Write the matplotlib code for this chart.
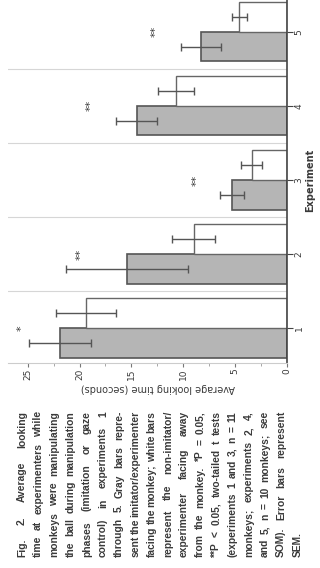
import matplotlib
matplotlib.use('Agg')
import matplotlib.pyplot as plt
from matplotlib import font_manager
import numpy as np

# Looking time per experiment (seconds)
experiments = [1, 2, 3, 4, 5]
imitator = [21.9, 15.4, 5.3, 14.5, 8.3]
imitator_sem = [3.0, 5.9, 1.2, 2.0, 1.9]
non_imitator = [19.4, 9.0, 3.4, 10.7, 4.6]
non_imitator_sem = [2.9, 2.1, 1.0, 1.7, 0.7]
sig_marks = ['*', '**', '**', '**', '**']
sig_pos = [25.6, 19.9, 8.7, 18.9, 12.7]
value_ticks = [0, 5, 10, 15, 20, 25]

caption_lines = [
    "Fig. 2. Average looking",
    "time at experimenters while",
    "monkeys were manipulating",
    "the ball during manipulation",
    "phases (imitation or gaze",
    "control) in experiments 1",
    "through 5. Gray bars repre-",
    "sent the imitator/experimenter",
    "facing the monkey; white bars",
    "represent the non-imitator/",
    "experimenter facing away",
    "from the monkey. *P = 0.05,",
    "**P < 0.05, two-tailed t tests",
    "(experiments 1 and 3, n = 11",
    "monkeys; experiments 2, 4,",
    "and 5, n = 10 monkeys; see",
    "SOM). Error bars represent",
    "SEM.",
]

names = {f.name for f in font_manager.fontManager.ttflist}
cap_font = 'Liberation Sans Narrow' if 'Liberation Sans Narrow' in names else 'Liberation Sans'
ink = '#3a3a3a'

W, H = 320, 568
fig = plt.figure(figsize=(W / 100, H / 100), dpi=100)
fig.patch.set_facecolor('white')

# chart is printed rotated: value axis runs right-to-left, experiments bottom-to-top
ax = fig.add_axes([8 / W, 1 - 363 / H, 279 / W, 363 / H])
pos = np.array(experiments, dtype=float)
w = 0.4
ax.barh(pos - w / 2, imitator, height=w, color='#b5b5b5', edgecolor='#555555', linewidth=1.2,
        xerr=imitator_sem, error_kw=dict(ecolor='#555555', elinewidth=1, capsize=3, capthick=1))
ax.barh(pos + w / 2, non_imitator, height=w, color='white', edgecolor='#666666', linewidth=1.0,
        xerr=non_imitator_sem, error_kw=dict(ecolor='#555555', elinewidth=1, capsize=3, capthick=1))

for p, m, v in zip(pos, sig_marks, sig_pos):
    ax.text(v, p, m, rotation=90, ha='center', va='center', fontsize=8, color=ink)

for k in range(1, len(experiments)):
    ax.axhline(k + 0.5, color='#d6d6d6', lw=0.8, zorder=0)

ax.set_xlim(26.9, 0)
ax.set_ylim(0.527, 5.43)

for s in ['top', 'left']:
    ax.spines[s].set_visible(False)
ax.spines['right'].set_color('#444444')
ax.spines['right'].set_linewidth(1.2)
ax.spines['bottom'].set_color('#cccccc')
ax.spines['bottom'].set_linewidth(0.8)

ax.set_xticks(value_ticks)
ax.set_xticklabels([str(v) for v in value_ticks], rotation=90, fontsize=6.5, color=ink)
ax.set_xticks([2.5, 7.5, 12.5, 17.5, 22.5], minor=True)
ax.tick_params(axis='x', which='major', length=3, pad=1, color='#777777')
ax.tick_params(axis='x', which='minor', length=2, color='#999999')

ax.yaxis.tick_right()
ax.set_yticks(experiments)
ax.set_yticklabels([str(e) for e in experiments], rotation=90, fontsize=6.5, color=ink, va='center')
ax.tick_params(axis='y', length=4, pad=1.5, color='#444444')

ax.yaxis.set_label_position('right')
ax.set_ylabel('Experiment', fontsize=7, color=ink, fontweight='bold')
ax.yaxis.label.set_rotation(90)
ax.yaxis.label.set_va('center')
ax.yaxis.set_label_coords(1.083, 0.504)

ax.set_xlabel('Average looking time (seconds)', fontsize=7, color=ink, rotation=180)
ax.xaxis.label.set_va('center')
ax.xaxis.set_label_coords(0.536, -0.068)

# caption, rotated and justified word by word
fig.canvas.draw()
r = fig.canvas.get_renderer()
words_all = [ln.split() for ln in caption_lines]
cap_kw = dict(rotation=90, family=cap_font, fontweight='bold')


def measure(fs):
    tmp = [[fig.text(0, 0, wd, fontsize=fs, **cap_kw) for wd in ws] for ws in words_all]
    lens = [[t.get_window_extent(r).height for t in ts] for ts in tmp]
    a2 = fig.text(0, 0, 'a a', fontsize=fs, **cap_kw).get_window_extent(r).height
    a1 = fig.text(0, 0, 'aa', fontsize=fs, **cap_kw).get_window_extent(r).height
    for t in fig.texts[:]:
        t.remove()
    return lens, a2 - a1


y0, L = 11, 146
lens, space = measure(10)
longest = max(sum(ls) + 0.8 * space * (len(ls) - 1) for ls in lens)
fs = min(8.5, 10 * L / longest)
lens, space = measure(fs)

for i, (ws, ls) in enumerate(zip(words_all, lens)):
    x = 22 + i * 16.2
    if i == len(words_all) - 1 or len(ws) == 1:
        gap = space
    else:
        gap = (L - sum(ls)) / (len(ws) - 1)
    y = y0
    for wd, l in zip(ws, ls):
        fig.text(x / W, y / H, wd, ha='center', va='bottom', fontsize=fs, color=ink, **cap_kw)
        y += l + gap

fig.savefig('out.png', dpi=100, facecolor='white')
